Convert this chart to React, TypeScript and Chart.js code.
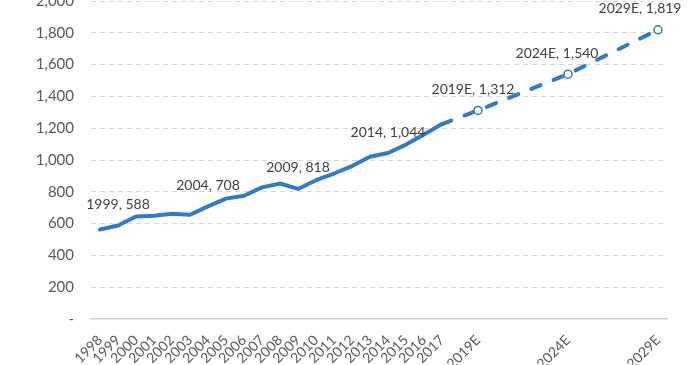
import React, { useEffect, useRef } from 'react';
import { Chart, registerables } from 'chart.js';

Chart.register(...registerables);

const categories = [
  '1998', '1999', '2000', '2001', '2002', '2003', '2004', '2005', '2006', '2007',
  '2008', '2009', '2010', '2011', '2012', '2013', '2014', '2015', '2016', '2017',
  '2018E', '2019E', '2020E', '2021E', '2022E', '2023E', '2024E', '2025E', '2026E', '2027E',
  '2028E', '2029E',
];

const tickLabels = [
  '1998', '1999', '2000', '2001', '2002', '2003', '2004', '2005', '2006', '2007',
  '2008', '2009', '2010', '2011', '2012', '2013', '2014', '2015', '2016', '2017',
  '', '2019E', '', '', '', '', '2024E', '', '', '',
  '', '2029E',
];

// Actual values 1998–2017
const actualValues = [
  563, 588, 645, 650, 662, 656, 708, 757, 775, 828,
  852, 818, 873, 915, 962, 1020, 1044, 1097, 1160, 1226,
];

// Projection (from 2017 onward)
const projectionYears = ['2017', '2019E', '2024E', '2029E'];
const projectionValues = [1226, 1312, 1540, 1819];

const annotatedCategories = ['1999', '2004', '2009', '2014', '2019E', '2024E', '2029E'];
const annotationShift = [0, 0, 0, 0, -5, -11, -18];

const yTicks = [0, 200, 400, 600, 800, 1000, 1200, 1400, 1600, 1800, 2000];

const BLUE = '#2E7CC4';

export default function App() {
  const ref = useRef<HTMLCanvasElement | null>(null);

  useEffect(() => {
    if (!ref.current) return;
    Chart.defaults.font.family = 'Lato';

    const actualData = categories.map((_, i) => (i < actualValues.length ? actualValues[i] : null));
    const projData = categories.map((c) => {
      const k = projectionYears.indexOf(c);
      return k >= 0 ? projectionValues[k] : null;
    });

    const labelPlugin = {
      id: 'pointLabels',
      afterDatasetsDraw(chart: any) {
        const ctx = chart.ctx;
        ctx.save();
        ctx.font = '14px Lato';
        ctx.fillStyle = '#404040';
        ctx.textAlign = 'center';
        ctx.textBaseline = 'middle';
        annotatedCategories.forEach((cat, j) => {
          const idx = categories.indexOf(cat);
          let value: number | null = null;
          let el: any = null;
          [0, 1].forEach((d) => {
            const v = chart.data.datasets[d].data[idx];
            if (v != null && el == null) {
              value = v as number;
              el = chart.getDatasetMeta(d).data[idx];
            }
          });
          if (el == null || value == null) return;
          const txt = `${cat}, ${(value as number).toLocaleString('en-US')}`;
          ctx.fillText(txt, el.x + annotationShift[j], el.y - 21);
        });
        ctx.restore();
      },
    };

    const chart = new Chart(ref.current, {
      type: 'line',
      data: {
        labels: categories,
        datasets: [
          {
            data: actualData,
            borderColor: BLUE,
            borderWidth: 4,
            borderCapStyle: 'round',
            borderJoinStyle: 'round',
            pointRadius: 0,
            tension: 0,
            fill: false,
          },
          {
            data: projData,
            borderColor: BLUE,
            borderWidth: 4,
            borderDash: [10, 14],
            borderDashOffset: 0,
            borderCapStyle: 'round',
            spanGaps: true,
            pointRadius: (c: any) => (c.dataIndex === categories.indexOf('2017') ? 0 : 4),
            pointBackgroundColor: '#ffffff',
            pointBorderColor: BLUE,
            pointBorderWidth: 1.5,
            tension: 0,
            fill: false,
          },
        ],
      },
      options: {
        responsive: false,
        animation: false,
        layout: { padding: { top: 20, right: 30, left: 0, bottom: 0 } },
        plugins: {
          legend: { display: false },
          tooltip: { enabled: false },
        },
        scales: {
          x: {
            type: 'category',
            offset: true,
            grid: { display: false },
            border: { display: true, color: '#d0d0d0', width: 1.5 },
            ticks: {
              autoSkip: false,
              maxRotation: 45,
              minRotation: 45,
              padding: 5,
              color: '#595959',
              font: { size: 14, family: 'Lato' },
              callback: (_v: any, i: number) => tickLabels[i],
            },
            afterFit: (s: any) => {
              s.height = 60;
            },
          },
          y: {
            min: 0,
            max: 2000,
            afterBuildTicks: (s: any) => {
              s.ticks = yTicks.map((v) => ({ value: v }));
            },
            grid: {
              drawTicks: false,
              color: (c: any) => (c.tick && c.tick.value === 0 ? 'rgba(0,0,0,0)' : '#d6d6d6'),
              lineWidth: 1,
            },
            border: { display: false, dash: [5, 4] },
            ticks: {
              padding: 17,
              color: '#595959',
              font: { size: 15, family: 'Lato' },
              callback: (v: any) => (Number(v) === 0 ? '-' : Number(v).toLocaleString('en-US')),
            },
            afterFit: (s: any) => {
              s.width = 91;
            },
          },
        },
      },
      plugins: [labelPlugin],
    } as any);

    return () => chart.destroy();
  }, []);

  return (
    <div
      style={{
        position: 'fixed',
        left: 0,
        top: 0,
        width: 697,
        height: 365,
        overflow: 'hidden',
        background: '#ffffff',
      }}
    >
      <canvas
        ref={ref}
        width={697}
        height={404}
        style={{ position: 'absolute', left: 0, top: -25, display: 'block' }}
      />
    </div>
  );
}
